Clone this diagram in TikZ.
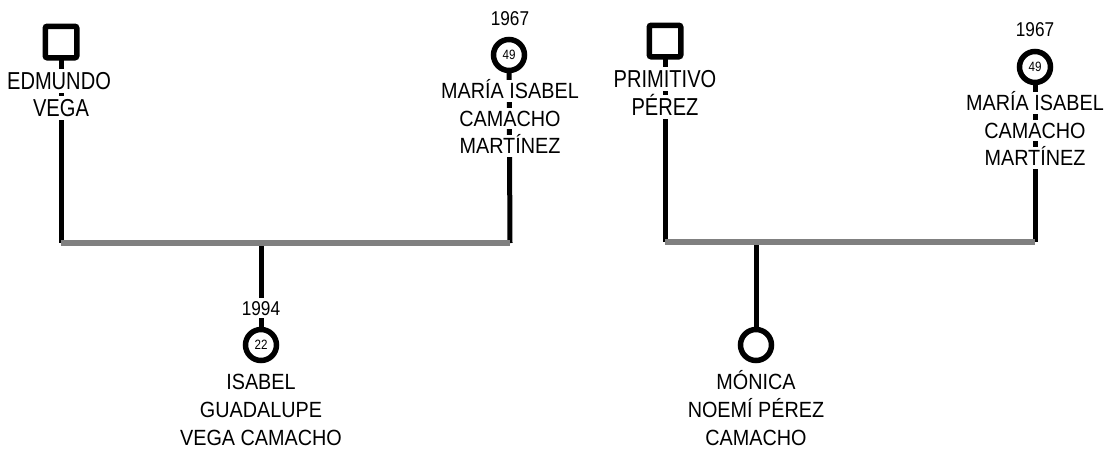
\documentclass[tikz,border=0pt]{standalone}
\usepackage{fontspec}
\setmainfont{Liberation Sans}
\newfontfamily\namefont{Liberation Sans}[FakeStretch=0.9]
\newfontfamily\tallfont{Liberation Sans}[FakeStretch=0.82]
\newfontfamily\yearfont{Liberation Sans}[FakeStretch=0.86]
\usetikzlibrary{backgrounds}
\definecolor{bargray}{RGB}{128,128,128}
\begin{document}
\begin{tikzpicture}[x=1pt,y=-1pt,
  male/.style={draw,line width=5.5pt,fill=white,minimum size=31.5pt,inner sep=0pt,rounded corners=2pt},
  female/.style={circle,draw,line width=5.5pt,fill=white,minimum size=31pt,inner sep=0pt,font=\yearfont\fontsize{13.5}{13.5}\selectfont},
  nm/.style={fill=white,inner xsep=1pt,inner ysep=3pt,text height=15.75pt,text depth=0pt,font=\namefont\fontsize{22}{22}\selectfont},
  tall/.style={fill=white,inner xsep=1pt,inner ysep=3pt,text height=17.5pt,text depth=0pt,font=\tallfont\fontsize{24.5}{24.5}\selectfont},
  yr/.style={fill=white,inner xsep=1pt,inner ysep=3pt,text height=14.3pt,text depth=0pt,font=\yearfont\fontsize{20}{20}\selectfont},
  vline/.style={line width=5pt,black},
  hbar/.style={line width=5.5pt,bargray}]
\useasboundingbox (0,0) rectangle (1112,451);
% left family
\node[male] (ed) at (61,42) {};
\node[tall] (ed1) at (59,81) {EDMUNDO};
\node[tall] (ed2) at (61,108) {VEGA};
\node[yr] (m1y) at (510,18) {1967};
\node[female] (m1) at (509,55) {49};
\node[nm] (m1a) at (510,91) {MARÍA ISABEL};
\node[nm] (m1b) at (510,118.5) {CAMACHO};
\node[nm] (m1c) at (510,146) {MARTÍNEZ};
\coordinate (b1l) at (61,243);
\coordinate (b1r) at (510,243);
\coordinate (b1c) at (261,243);
\node[yr] (c1y) at (261,308) {1994};
\node[female] (c1) at (261,345) {22};
\node[nm] (c1a) at (261,382) {ISABEL};
\node[nm] (c1b) at (261,410) {GUADALUPE};
\node[nm] (c1c) at (261,438) {VEGA CAMACHO};
% right family
\node[male] (pr) at (665,41) {};
\node[tall] (pr1) at (665,79) {PRIMITIVO};
\node[tall] (pr2) at (665,107) {PÉREZ};
\node[yr] (m2y) at (1035,29) {1967};
\node[female] (m2) at (1035,67) {49};
\node[nm] (m2a) at (1035,103) {MARÍA ISABEL};
\node[nm] (m2b) at (1035,130.5) {CAMACHO};
\node[nm] (m2c) at (1035,158) {MARTÍNEZ};
\coordinate (b2l) at (665,242);
\coordinate (b2r) at (1035,242);
\coordinate (b2c) at (756,242);
\node[female] (c2) at (756,345) {};
\node[nm] (c2a) at (756,382) {MÓNICA};
\node[nm] (c2b) at (756,410) {NOEMÍ PÉREZ};
\node[nm] (c2c) at (756,438) {CAMACHO};
\begin{scope}[on background layer]
  \draw[vline] (ed.center) -- (b1l);
  \draw[vline] (m1.center) -- (b1r);
  \draw[vline] (b1c) -- (c1.center);
  \draw[hbar] (b1l) -- (b1r);
  \draw[vline] (pr.center) -- (b2l);
  \draw[vline] (m2.center) -- (b2r);
  \draw[vline] (b2c) -- (c2.center);
  \draw[hbar] (b2l) -- (b2r);
\end{scope}
\end{tikzpicture}
\end{document}
